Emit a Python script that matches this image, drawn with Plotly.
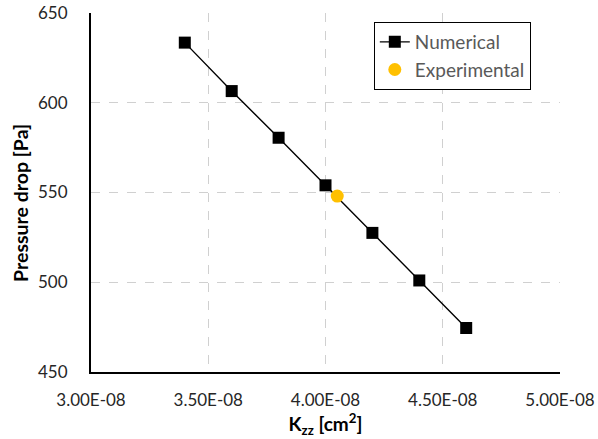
import plotly.graph_objects as go

k_num = [3.4e-8, 3.6e-8, 3.8e-8, 4.0e-8, 4.2e-8, 4.4e-8, 4.6e-8]
dp_num = [633.5, 606.5, 580.5, 554.0, 527.5, 501.0, 474.5]
k_exp = [4.05e-8]
dp_exp = [548.0]

x_tickvals = [3.0e-8, 3.5e-8, 4.0e-8, 4.5e-8, 5.0e-8]
x_ticktext = ["3.00E-08", "3.50E-08", "4.00E-08", "4.50E-08", "5.00E-08"]
y_tickvals = [450, 500, 550, 600, 650]

FONT = "Lato, Carlito, Calibri, sans-serif"

fig = go.Figure()
fig.add_trace(go.Scatter(
    x=k_num, y=dp_num, mode="lines+markers", name="Numerical",
    line=dict(color="black", width=1.4),
    marker=dict(symbol="square", size=12, color="black"),
))
fig.add_trace(go.Scatter(
    x=k_exp, y=dp_exp, mode="markers", name="Experimental",
    marker=dict(symbol="circle", size=13, color="#FFC000"),
))

grid = dict(showgrid=True, gridcolor="#d0d0d0", griddash="dash", gridwidth=1)
fig.update_xaxes(
    range=[3.0e-8, 5.0e-8], tickvals=x_tickvals, ticktext=x_ticktext,
    showline=True, linecolor="black", linewidth=2, zeroline=False,
    automargin=False,
    ticks="", tickfont=dict(size=17, color="#262626", family=FONT),
    ticklabelstandoff=12,
    title=dict(text="<b>K<sub>zz</sub> [cm<sup>2</sup>]</b>", font=dict(size=19, color="black", family=FONT), standoff=2),
    **grid,
)
fig.update_yaxes(
    range=[450, 650], tickvals=y_tickvals,
    showline=True, linecolor="black", linewidth=2, zeroline=False,
    automargin=False,
    ticks="", tickfont=dict(size=17, color="#262626", family=FONT),
    ticklabelstandoff=18,
    **grid,
)
fig.add_annotation(
    text="<b>Pressure drop [Pa]</b>", textangle=-90,
    xref="paper", yref="paper", x=-0.15, y=0.47,
    xanchor="center", yanchor="middle", showarrow=False,
    font=dict(size=19.5, color="black", family=FONT),
)
fig.update_layout(
    width=598, height=439,
    margin=dict(l=91, r=38, t=13, b=67, autoexpand=False),
    paper_bgcolor="white", plot_bgcolor="white",
    font=dict(family=FONT),
    legend=dict(
        x=0.603, y=0.975, xanchor="left", yanchor="top",
        bordercolor="black", borderwidth=1, bgcolor="white",
        font=dict(size=19, color="#595959", family=FONT),
        tracegroupgap=10, itemwidth=30,
    ),
)
fig.write_html("out.html")
